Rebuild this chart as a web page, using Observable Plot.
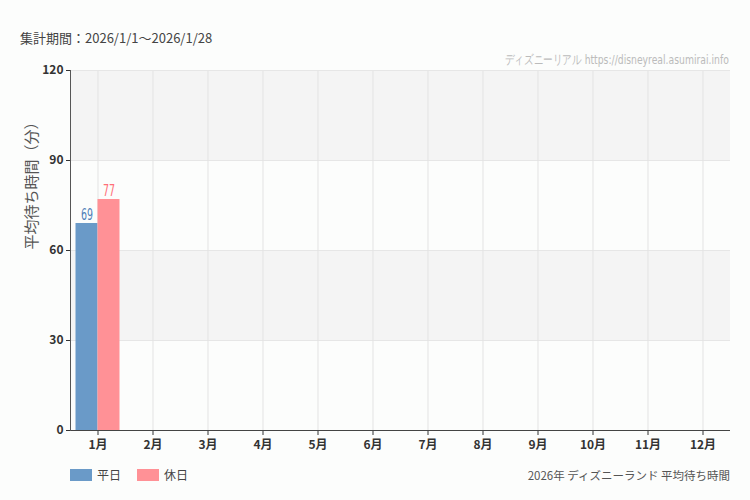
<!DOCTYPE html>
<html>
<head>
<meta charset="utf-8">
<script src="https://cdn.jsdelivr.net/npm/d3@7"></script>
<script src="https://cdn.jsdelivr.net/npm/@observablehq/plot@0.6"></script>
<style>
  html, body { margin: 0; padding: 0; background: #fcfdfc; }
  #wrap { position: relative; width: 750px; height: 500px; font-family: "Noto Sans CJK JP", "Noto Sans", sans-serif; }
  .abs { position: absolute; white-space: nowrap; }
  #sub { left: 20px; top: 28px; font-size: 13px; color: #444; }
  #wm { right: 21px; top: 52px; font-size: 12.5px; color: #bbb; font-family: "DejaVu Sans", sans-serif; transform: scaleX(0.74); transform-origin: right center; }
  #ylab { left: 30px; top: 182px; font-size: 15px; color: #555; transform: translate(-50%, -50%) rotate(-90deg); }
  #legend { left: 70px; top: 466px; font-size: 12px; color: #444; display: flex; align-items: center; }
  #legend .sw { display: inline-block; width: 22px; height: 12px; margin-right: 5px; }
  #legend .it { display: flex; align-items: center; margin-right: 16px; }
  #foot { right: 20px; top: 467px; font-size: 11.5px; color: #555; }
  svg { position: absolute; left: 0; top: 0; }
</style>
</head>
<body>
<div id="wrap">
  <div id="chart"></div>
</div>
<script>
const months = ["1月","2月","3月","4月","5月","6月","7月","8月","9月","10月","11月","12月"];
const weekdayValues = [69];   // 平日
const holidayValues = [77];   // 休日
const seriesNames = ["平日", "休日"];
const seriesColors = ["#6a9ac8", "#ff9196"];
const labelColors = ["#4f80b8", "#ff6f78"];
const yTicks = [0, 30, 60, 90, 120];
const shadeBands = [[90, 120], [30, 60]];
const subtitle = "集計期間：2026/1/1〜2026/1/28";
const watermark = "ディズニーリアル https://disneyreal.asumirai.info";
const yLabel = "平均待ち時間（分）";
const footer = "2026年 ディズニーランド 平均待ち時間";

const weekday = weekdayValues.map((v, i) => ({month: months[i], value: v}));
const holiday = holidayValues.map((v, i) => ({month: months[i], value: v}));
const bands = shadeBands.map(([a, b]) => ({y1: a, y2: b}));

const chart = Plot.plot({
  width: 750,
  height: 500,
  marginTop: 70,
  marginBottom: 70,
  marginLeft: 70,
  marginRight: 20,
  style: {background: "transparent", fontFamily: "'Noto Sans CJK JP', 'Noto Sans', sans-serif", fontSize: "12px", color: "#333"},
  x: {domain: months, padding: 0, label: null},
  y: {domain: [0, 120], label: null},
  marks: [
    Plot.rect(bands, {y1: "y1", y2: "y2", fill: "#f4f4f4"}),
    Plot.ruleY(yTicks.filter(t => t > 0 && t < 120), {stroke: "#e6e6e6"}),
    Plot.gridX(months, {stroke: "#e3e3e3", strokeOpacity: 1}),
    Plot.ruleY([120], {stroke: "#e6e6e6"}),
    Plot.barY(weekday, {x: "month", y: "value", fill: seriesColors[0], insetLeft: 5.5, insetRight: 27.5}),
    Plot.barY(holiday, {x: "month", y: "value", fill: seriesColors[1], insetLeft: 27.5, insetRight: 5.5}),
    Plot.text(weekday, {x: "month", y: "value", text: d => String(d.value), dx: -11, dy: -8, fill: labelColors[0], fontSize: 15, fontFamily: "'DejaVu Sans', sans-serif"}),
    Plot.text(holiday, {x: "month", y: "value", text: d => String(d.value), dx: 11, dy: -8, fill: labelColors[1], fontSize: 15, fontFamily: "'DejaVu Sans', sans-serif"}),
    Plot.axisY({ticks: yTicks, tickSize: 4, tickPadding: 3, label: null, fill: "#333", fontSize: 12, fontWeight: 600}),
    Plot.axisX({tickSize: 5, tickPadding: 5, label: null, fill: "#333", fontSize: 12, fontWeight: 600}),
    Plot.ruleY([0], {stroke: "#444"}),
    Plot.frame({anchor: "left", stroke: "#555"})
  ]
});
document.getElementById("chart").appendChild(chart);
// narrow the value labels, like the condensed face of the reference
d3.select(chart).selectAll('g[aria-label="text"] text')
  .attr("textLength", function() { return this.textContent.length * 6; })
  .attr("lengthAdjust", "spacingAndGlyphs");

const wrap = document.getElementById("wrap");
function addText(id, txt) {
  const d = document.createElement("div");
  d.id = id; d.className = "abs"; d.textContent = txt;
  wrap.appendChild(d);
  return d;
}
addText("sub", subtitle);
addText("wm", watermark);
addText("ylab", yLabel);
addText("foot", footer);
const lg = document.createElement("div");
lg.id = "legend"; lg.className = "abs";
seriesNames.forEach((n, i) => {
  const it = document.createElement("span");
  it.className = "it";
  const sw = document.createElement("span");
  sw.className = "sw"; sw.style.background = seriesColors[i];
  it.appendChild(sw);
  it.appendChild(document.createTextNode(n));
  lg.appendChild(it);
});
wrap.appendChild(lg);
</script>
</body>
</html>
